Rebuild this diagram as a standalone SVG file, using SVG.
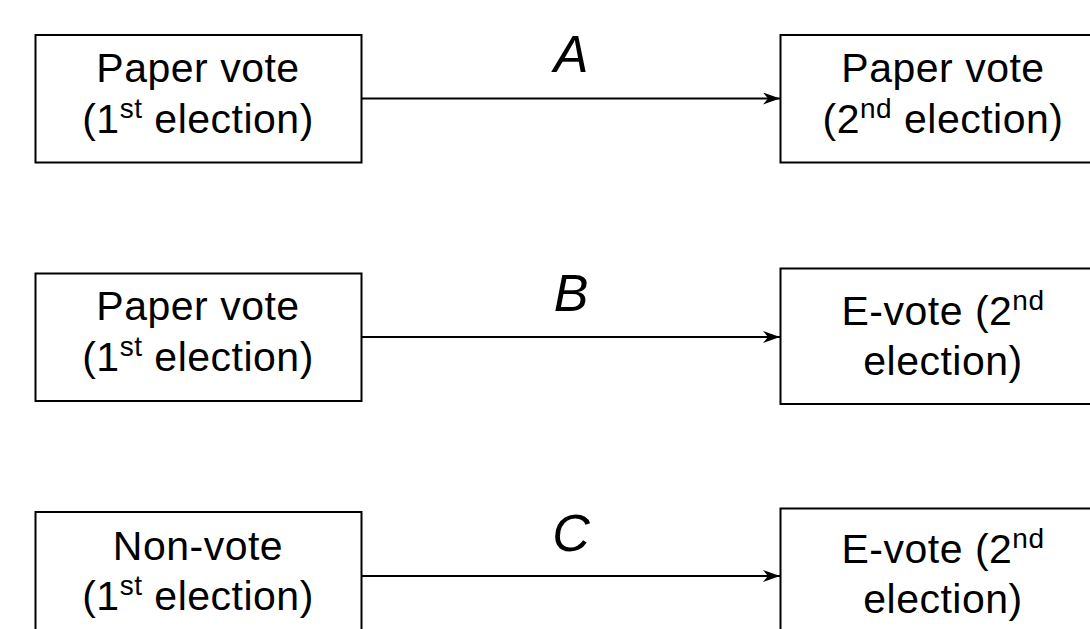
<svg xmlns="http://www.w3.org/2000/svg" width="1090" height="629" viewBox="0 0 1090 629">
<defs>
<style>
.box{fill:#fff;stroke:#000;stroke-width:2}
.t{font-family:"Liberation Sans",Arial,sans-serif;font-size:41px;fill:#000;text-anchor:middle;letter-spacing:0.5px}
.sup{font-size:28px}
.lbl{font-family:"Liberation Sans",Arial,sans-serif;font-size:52px;font-style:italic;fill:#000;text-anchor:middle}
.edge{stroke:#000;stroke-width:2;fill:none;marker-end:url(#ah)}
</style>
<marker id="ah" viewBox="0 0 17 12" refX="17" refY="6" markerWidth="17" markerHeight="12" markerUnits="userSpaceOnUse" orient="auto">
<path d="M0,0 L17,6 L0,12 L5,6 Z" fill="#000"/>
</marker>
</defs>
<rect width="1090" height="629" fill="#fff"/>
<g id="connectors">
<line class="edge" x1="361" y1="98.5" x2="780" y2="98.5"/>
<text class="lbl" x="571" y="72">A</text>
<line class="edge" x1="361" y1="337" x2="780" y2="337"/>
<text class="lbl" x="571" y="311">B</text>
<line class="edge" x1="361" y1="576" x2="780" y2="576"/>
<text class="lbl" x="571" y="551">C</text>
</g>
<g id="n1">
<rect class="box" x="35.5" y="35" width="326" height="127.5"/>
<text class="t" x="198" y="82">Paper vote</text>
<text class="t" x="198" y="133">(1<tspan class="sup" dy="-15">st</tspan><tspan dy="15"> election)</tspan></text>
</g>
<g id="n2">
<rect class="box" x="780.5" y="35" width="328" height="127.5"/>
<text class="t" x="943" y="82">Paper vote</text>
<text class="t" x="943" y="133">(2<tspan class="sup" dy="-15">nd</tspan><tspan dy="15"> election)</tspan></text>
</g>
<g id="n3">
<rect class="box" x="35.5" y="273.5" width="326" height="127.5"/>
<text class="t" x="198" y="320">Paper vote</text>
<text class="t" x="198" y="371">(1<tspan class="sup" dy="-15">st</tspan><tspan dy="15"> election)</tspan></text>
</g>
<g id="n4">
<rect class="box" x="780.5" y="268.5" width="328" height="135.5"/>
<text class="t" x="943" y="325">E-vote (2<tspan class="sup" dy="-15">nd</tspan></text>
<text class="t" x="943" y="375">election)</text>
</g>
<g id="n5">
<rect class="box" x="35.5" y="512" width="326" height="127.5"/>
<text class="t" x="198" y="560">Non-vote</text>
<text class="t" x="198" y="610">(1<tspan class="sup" dy="-15">st</tspan><tspan dy="15"> election)</tspan></text>
</g>
<g id="n6">
<rect class="box" x="780.5" y="508.5" width="328" height="135.5"/>
<text class="t" x="943" y="563">E-vote (2<tspan class="sup" dy="-15">nd</tspan></text>
<text class="t" x="943" y="613">election)</text>
</g>
</svg>
